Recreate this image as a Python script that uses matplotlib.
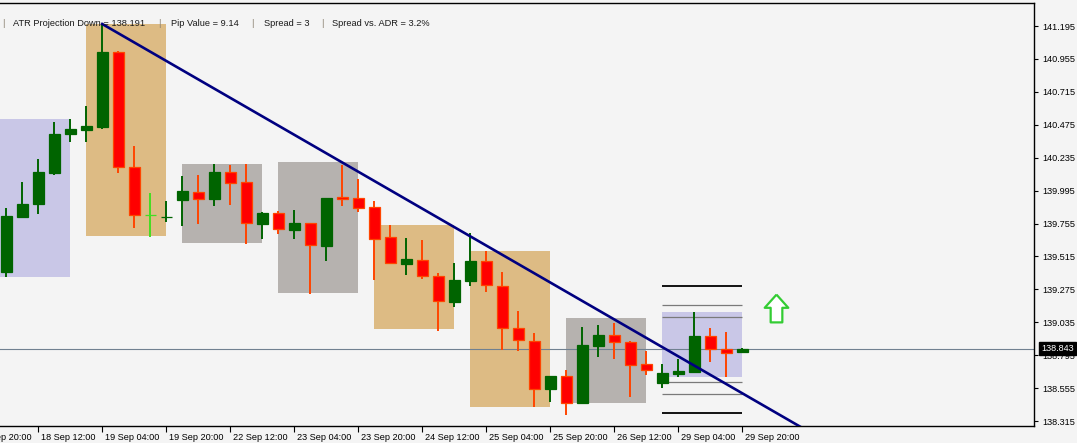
import matplotlib
matplotlib.use('Agg')
import matplotlib.pyplot as plt
from matplotlib.transforms import ScaledTranslation, blended_transform_factory
import numpy as np

plt.rcParams['font.family'] = ['Liberation Sans', 'DejaVu Sans']

# H4 candles, index 0 = 18 Sep 04:00
opens = [139.404, 139.805, 139.900, 140.123, 140.410, 140.439, 140.459, 141.005, 140.167, 139.817,
         139.803, 139.929, 139.983, 139.936, 140.128, 140.058, 139.754, 139.832, 139.710, 139.757,
         139.593, 139.947, 139.939, 139.873, 139.657, 139.462, 139.489, 139.372, 139.183, 139.338,
         139.480, 139.302, 138.993, 138.896, 138.551, 138.641, 138.445, 138.864, 138.940, 138.889,
         138.731, 138.595, 138.658, 138.673, 138.933, 138.838, 138.818]
highs = [139.866, 140.056, 140.225, 140.497, 140.517, 140.612, 141.210, 141.010, 140.322, 139.980,
         139.919, 140.101, 140.109, 140.189, 140.184, 140.189, 139.839, 139.846, 139.856, 139.760,
         139.944, 140.182, 140.080, 139.919, 139.744, 139.647, 139.635, 139.397, 139.465, 139.684,
         139.553, 139.400, 139.120, 138.959, 138.645, 138.687, 139.003, 139.013, 139.028, 138.901,
         138.828, 138.731, 138.765, 139.108, 138.991, 138.964, 138.850]
lows = [139.363, 139.800, 139.822, 140.109, 140.352, 140.347, 140.446, 140.121, 139.725, 139.659,
        139.768, 139.737, 139.754, 139.881, 139.888, 139.606, 139.642, 139.676, 139.640, 139.243,
        139.482, 139.881, 139.837, 139.343, 139.463, 139.382, 139.348, 138.972, 139.144, 139.300,
        139.256, 138.833, 138.826, 138.415, 138.456, 138.359, 138.443, 138.784, 138.765, 138.493,
        138.649, 138.558, 138.638, 138.670, 138.748, 138.634, 138.815]
closes = [139.810, 139.897, 140.131, 140.408, 140.444, 140.468, 141.005, 140.165, 139.815, 139.817,
          139.806, 139.992, 139.936, 140.131, 140.053, 139.757, 139.832, 139.713, 139.759, 139.596,
          139.941, 139.937, 139.870, 139.644, 139.465, 139.496, 139.370, 139.188, 139.343, 139.482,
          139.305, 138.991, 138.906, 138.551, 138.643, 138.445, 138.869, 138.940, 138.889, 138.726,
          138.689, 138.663, 138.680, 138.935, 138.838, 138.809, 138.843]

# daily range boxes: first candle, last candle, high, low, colour
box_start = [-1, 5, 11, 17, 23, 29, 35, 41]
box_end = [4, 10, 16, 22, 28, 34, 40, 46]
box_high = [140.517, 141.210, 140.189, 140.204, 139.744, 139.555, 139.066, 139.110]
box_low = [139.365, 139.666, 139.615, 139.251, 138.984, 138.420, 138.449, 138.638]
box_color = ['#C9C7E7', '#DDBB84', '#B6B2AF', '#B6B2AF', '#DDBB84', '#DDBB84', '#B6B2AF', '#C9C7E7']

# ATR projection levels for the current day
proj_black = [139.302, 138.372]
proj_gray = [139.163, 139.071, 138.602, 138.510]

# trend line anchor points (candle index, price)
trend_x = [6, 46]
trend_y = [141.210, 138.518]

last_price = 138.843
arrow_x, arrow_y = 48.1, 139.14

x_ticks = [-2, 2, 6, 10, 14, 18, 22, 26, 30, 34, 38, 42, 46]
x_labels = ['17 Sep 20:00', '18 Sep 12:00', '19 Sep 04:00', '19 Sep 20:00', '22 Sep 12:00',
            '23 Sep 04:00', '23 Sep 20:00', '24 Sep 12:00', '25 Sep 04:00', '25 Sep 20:00',
            '26 Sep 12:00', '29 Sep 04:00', '29 Sep 20:00']
y_ticks = [141.195, 140.955, 140.715, 140.475, 140.235, 139.995, 139.755, 139.515,
           139.275, 139.035, 138.795, 138.555, 138.315]

info_parts = ['|', 'ATR Projection Down = 138.191', '|', 'Pip Value = 9.14', '|', 'Spread = 3',
              '|', 'Spread vs. ADR = 3.2%']
info_px = [2, 13, 158, 171, 251, 264, 321, 332]

bg = '#F4F4F4'
fig = plt.figure(figsize=(10.77, 4.43), dpi=100, facecolor=bg)
ax = fig.add_axes([0, 17 / 443, 1034 / 1077, 423 / 443])
ax.set_facecolor(bg)

# boxes
for s, e, h, l, c in zip(box_start, box_end, box_high, box_low, box_color):
    ax.fill_between([s, e], l, h, color=c, linewidth=0, zorder=1)

# projection lines
ax.hlines(proj_black, box_start[-1], box_end[-1], color='black', linewidth=1.3, zorder=2)
ax.hlines(proj_gray, box_start[-1], box_end[-1], color='#7a7a7a', linewidth=0.9, zorder=2)

# current price line
ax.axhline(last_price, color='#708090', linewidth=0.8, zorder=2)

# candles
idx = np.arange(len(opens))
o = np.array(opens)
c = np.array(closes)
up = c > o
down = c < o
doji = c == o
for mask, face, edge in [(up, '#006400', '#006400'), (down, '#FF0000', '#FF4500'),
                         (doji, '#44DD22', '#44DD22')]:
    ax.vlines(idx[mask], np.array(lows)[mask], np.array(highs)[mask], color=edge,
              linewidth=1.4, zorder=3)
    ax.bar(idx[mask], np.abs(c - o)[mask], bottom=np.minimum(o, c)[mask], width=0.68,
           color=face, edgecolor=edge, linewidth=0.9, zorder=4)

# trend line (ray)
slope = (trend_y[1] - trend_y[0]) / (trend_x[1] - trend_x[0])
ray_x = np.array([trend_x[0], 70])
ax.plot(ray_x, trend_y[0] + slope * (ray_x - trend_x[0]), color='#000080', linewidth=1.9, zorder=6)

# arrow signal
arrow = [(0, 1), (0.85, 0.05), (0.42, 0.05), (0.42, -1), (-0.42, -1), (-0.42, 0.05),
         (-0.85, 0.05), (0, 1)]
ax.plot([arrow_x], [arrow_y], marker=arrow, markersize=20, markerfacecolor='white',
        markeredgecolor='#33CC33', markeredgewidth=1.6, zorder=6)

# axes styling
ax.spines['left'].set_visible(False)
for sp in ['top', 'right', 'bottom']:
    ax.spines[sp].set_color('black')
    ax.spines[sp].set_linewidth(1.0)
ax.yaxis.tick_right()
ax.set_yticks(y_ticks)
ax.set_yticklabels([f'{v:.3f}' for v in y_ticks])
ax.tick_params(axis='y', direction='out', length=3, pad=3, labelsize=6.6, colors='black')
ax.set_xticks(x_ticks)
ax.set_xticklabels([])
ax.tick_params(axis='x', direction='out', length=4, colors='black')

ax.set_xlim(-0.39, 64.24)
ax.set_ylim(138.279, 141.363)

# x labels drawn by hand so the one cut off at the left edge still shows
xtr = blended_transform_factory(ax.transData, ax.transAxes)
for t, lab in zip(x_ticks, x_labels):
    ax.text(t, 0, lab, transform=xtr + ScaledTranslation(2 / 72, -5 / 72, fig.dpi_scale_trans),
            ha='left', va='top', fontsize=6.6, color='black', clip_on=False)

# price label at right
tr = blended_transform_factory(ax.transAxes, ax.transData)
ax.text(1.0, last_price, f'{last_price:.3f}', transform=tr + ScaledTranslation(5 / 72, 0, fig.dpi_scale_trans),
        ha='left', va='center', fontsize=6.6, color='white', zorder=10, clip_on=False,
        bbox=dict(boxstyle='square,pad=0.25', facecolor='black', edgecolor='black'))

# info text at top
for txt, px in zip(info_parts, info_px):
    col = '#8a8070' if txt == '|' else '#1a1a1a'
    fig.text(px / 1077, 1 - 24 / 443, txt, ha='left', va='center', fontsize=6.7, color=col, zorder=5)

plt.savefig('out.png', dpi=100, facecolor=bg)
plt.close('all')
